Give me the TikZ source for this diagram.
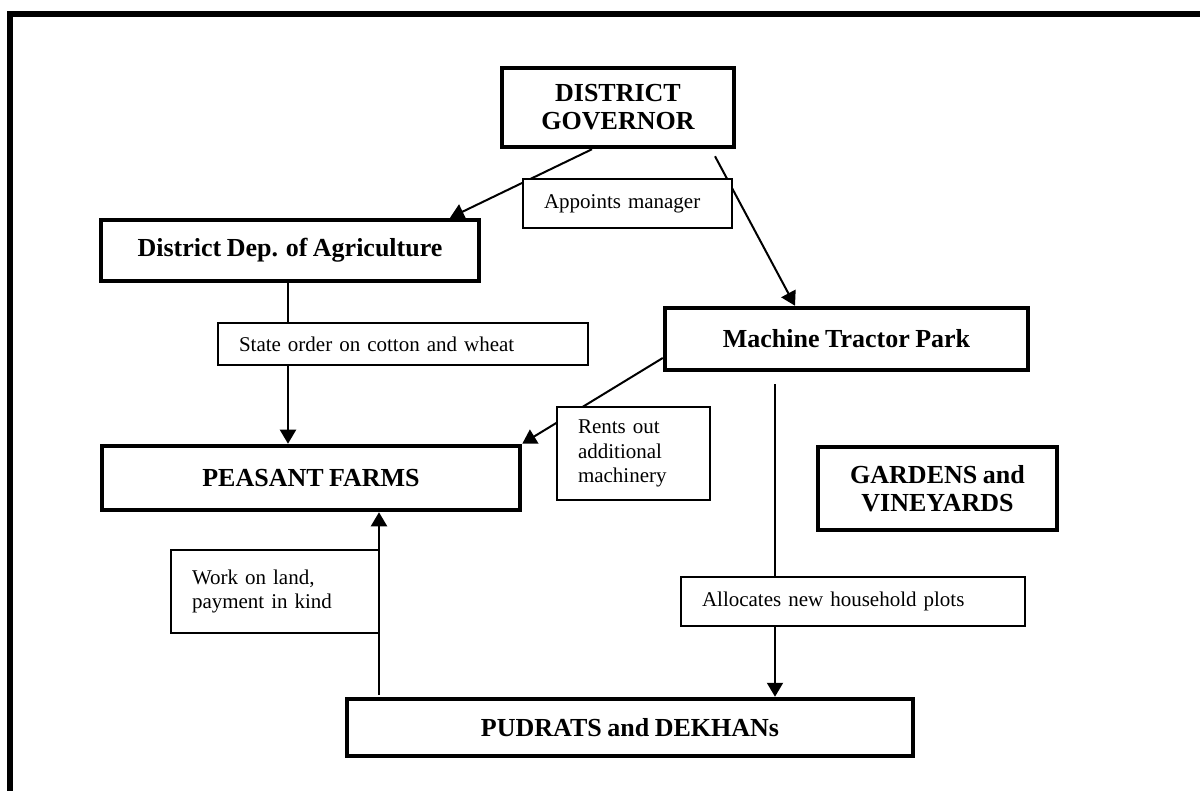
\documentclass[tikz,border=0pt]{standalone}
\usepackage{fontspec}
\setmainfont[WordSpace=0.85]{Liberation Serif}
\usetikzlibrary{arrows.meta,calc}

\tikzset{
  unitbox/.style={draw, line width=4.5pt, align=center, inner sep=0pt,
    font=\fontsize{26}{28}\selectfont\bfseries},
  labelbox/.style={draw, line width=1.6pt, fill=white, align=left,
    inner xsep=21pt, inner ysep=0pt, font=\fontsize{21}{24.5}\selectfont},
  flow/.style={line width=2pt, -{Triangle[length=14pt,width=16pt]}},
  plainline/.style={line width=2pt}
}

\begin{document}
\begin{tikzpicture}[x=1pt, y=-1pt]
  \useasboundingbox (0,0) rectangle (1200,791);

  % outer frame (top and left edges)
  \draw[line width=6pt, line cap=rect] (10,800) -- (10,14.5) -- (1210,14.5);

  % organisational units
  \node[unitbox, minimum width=232pt, minimum height=79pt] (gov) at (618,107.5) {DISTRICT\\GOVERNOR};
  \node[unitbox, minimum width=378pt, minimum height=61pt] (dep) at (290,250.5) {District Dep. of Agriculture};
  \node[unitbox, minimum width=363pt, minimum height=62pt] (mtp) at (846.5,339) {Machine Tractor Park};
  \node[unitbox, minimum width=418pt, minimum height=64pt] (peasant) at (311,478) {PEASANT FARMS};
  \node[unitbox, minimum width=239pt, minimum height=83pt] (gardens) at (937.5,488.5) {GARDENS and\\VINEYARDS};
  \node[unitbox, minimum width=566pt, minimum height=57pt] (pud) at (630,727.5) {PUDRATS and DEKHANs};

  % relations
  \draw[flow] ([xshift=-26pt]gov.south) -- ([xshift=160pt]dep.north);
  \draw[flow] ([xshift=97pt,yshift=-7pt]gov.south) -- ([xshift=-51.5pt]mtp.north);
  \draw[flow] ([xshift=-2pt]dep.south) -- ([xshift=-2pt]dep.south |- peasant.north);
  \draw[flow] ([yshift=-19pt]mtp.west) -- (peasant.north east);

  \coordinate (mtpdown) at ([xshift=-71.5pt,yshift=-12pt]mtp.south);
  \draw[flow] (mtpdown) -- (mtpdown |- pud.north);

  \coordinate (pudup) at ([xshift=68pt]peasant.south);
  \draw[flow] ($(pudup |- pud.north)+(0,-2)$) -- (pudup);

  % relation labels
  \node[labelbox, text width=167pt, minimum height=49pt] (appoints) at (627.5,203.5) {Appoints manager};
  \node[labelbox, text width=328pt, minimum height=42pt] (state) at (403,344) {State order on cotton and wheat};
  \node[labelbox, text width=111pt, minimum height=93pt] (rents) at (633.5,453.5) {Rents out\\additional\\machinery};
  \node[labelbox, text width=166pt, minimum height=83pt] (work) at (275,591.5) {Work on land,\\payment in kind};
  \node[labelbox, text width=302pt, minimum height=49pt] (alloc) at (853,601.5) {Allocates new household plots};
\end{tikzpicture}
\end{document}
